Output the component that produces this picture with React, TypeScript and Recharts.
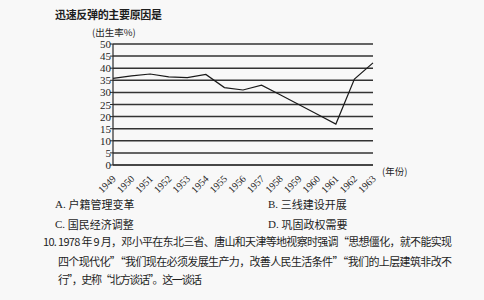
import React from "react";
import { LineChart, Line, XAxis, YAxis, CartesianGrid } from "recharts";

const years = ["1949","1950","1951","1952","1953","1954","1955","1956","1957","1958","1959","1960","1961","1962","1963"];
const birthRate = [35.8, 36.8, 37.6, 36.4, 36.1, 37.4, 32.0, 31.0, 33.0, 29.0, 25.0, 21.0, 16.9, 35.5, 42.2];
const yTicks = [0, 5, 10, 15, 20, 25, 30, 35, 40, 45, 50];

const data = years.map((y, i) => ({ year: y, rate: birthRate[i] }));

const serif = "'Liberation Serif', 'DejaVu Serif', serif";
const cjk = "'Noto Sans CJK SC', 'Noto Sans', sans-serif";
const ink = "#1e1e1e";

const XTick = (props: any) => {
  const { x, y, payload } = props;
  return (
    <text
      x={x + 1}
      y={y + 4}
      transform={`rotate(-45 ${x + 1} ${y + 4})`}
      textAnchor="end"
      dominantBaseline="central"
      fontFamily={serif}
      fontSize={10}
      fill={ink}
    >
      {payload.value}
    </text>
  );
};

const YTick = (props: any) => {
  const { x, y, payload } = props;
  return (
    <text x={x + 1} y={y} textAnchor="end" dominantBaseline="central" fontFamily={serif} fontSize={11} fill={ink}>
      {payload.value}
    </text>
  );
};

export default function App() {
  return (
    <div style={{ position: "absolute", left: 0, top: 0, width: 484, height: 300, background: "#f8f8f8", overflow: "hidden" }}>
      <div style={{ position: "absolute", left: 0, top: 0 }}>
        <LineChart width={484} height={300} data={data} margin={{ top: 44, right: 111, left: 83, bottom: 105 }}>
          <CartesianGrid horizontal vertical={false} stroke="#333333" strokeWidth={1.5} />
          <XAxis
            dataKey="year"
            height={30}
            tick={<XTick />}
            tickLine={false}
            axisLine={{ stroke: "#2a2a2a", strokeWidth: 1.2 }}
            interval={0}
          />
          <YAxis
            width={30}
            domain={[0, 50]}
            ticks={yTicks}
            tick={<YTick />}
            tickLine={{ stroke: "#2a2a2a" }}
            tickSize={3}
            tickMargin={0}
            axisLine={{ stroke: "#2a2a2a", strokeWidth: 1.2 }}
            interval={0}
          />
          <Line type="linear" dataKey="rate" stroke="#1a1a1a" strokeWidth={1.2} dot={false} isAnimationActive={false} />
        </LineChart>
      </div>
      <svg width={484} height={300} style={{ position: "absolute", left: 0, top: 0, pointerEvents: "none" }}>
        <text x={55} y={14} dominantBaseline="central" fontFamily={cjk} fontSize={11} fontWeight="bold" fill={ink} textLength={107}>
          迅速反弹的主要原因是
        </text>
        <text x={92} y={32} dominantBaseline="central" fontFamily={cjk} fontSize={9.5} fill={ink}>
          (出生率%)
        </text>
        <text x={382} y={171} dominantBaseline="central" fontFamily={cjk} fontSize={9.5} fill={ink}>
          (年份)
        </text>
        <text x={55} y={204} dominantBaseline="central" fontFamily={cjk} fontSize={11} fill={ink}>
          <tspan fontFamily={serif}>A. </tspan>户籍管理变革
        </text>
        <text x={268} y={204} dominantBaseline="central" fontFamily={cjk} fontSize={11} fill={ink}>
          <tspan fontFamily={serif}>B. </tspan>三线建设开展
        </text>
        <text x={55} y={224} dominantBaseline="central" fontFamily={cjk} fontSize={11} fill={ink}>
          <tspan fontFamily={serif}>C. </tspan>国民经济调整
        </text>
        <text x={268} y={224} dominantBaseline="central" fontFamily={cjk} fontSize={11} fill={ink}>
          <tspan fontFamily={serif}>D. </tspan>巩固政权需要
        </text>
        <text x={43} y={241} dominantBaseline="central" fontFamily={cjk} fontSize={11} fill={ink} textLength={409} lengthAdjust="spacing">
          10. 1978 年 9 月，邓小平在东北三省、唐山和天津等地视察时强调“思想僵化，就不能实现
        </text>
        <text x={58} y={261} dominantBaseline="central" fontFamily={cjk} fontSize={11} fill={ink} textLength={394} lengthAdjust="spacing">
          四个现代化”“我们现在必须发展生产力，改善人民生活条件”“我们的上层建筑非改不
        </text>
        <text x={58} y={279} dominantBaseline="central" fontFamily={cjk} fontSize={11} fill={ink} textLength={144} lengthAdjust="spacing">
          行”，史称“北方谈话”。这一谈话
        </text>
      </svg>
    </div>
  );
}
